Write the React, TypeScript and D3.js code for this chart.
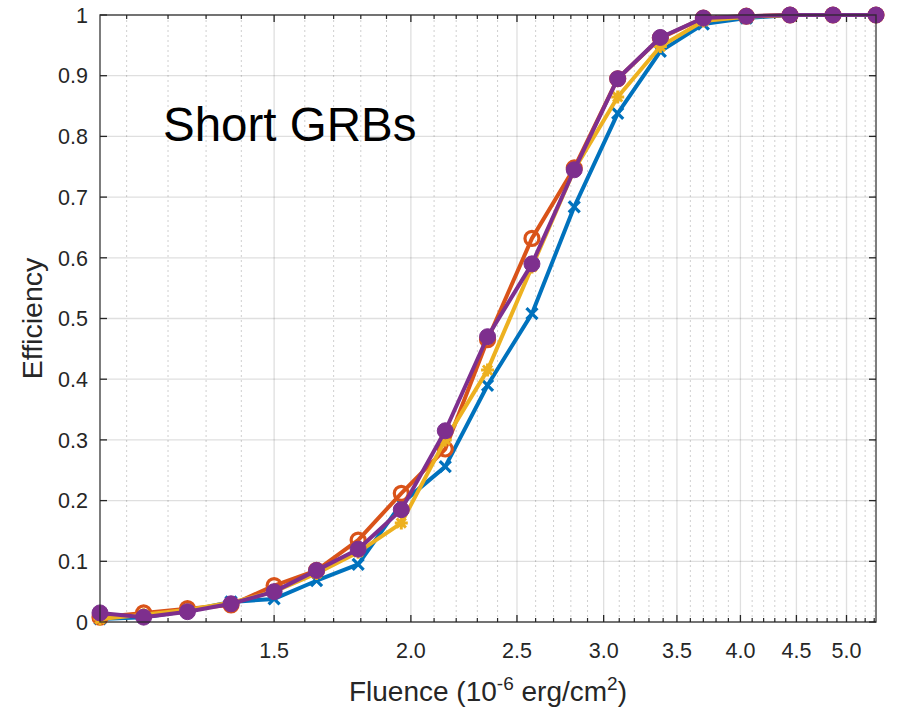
import React from "react";
import * as d3 from "d3";

// fluence (1e-6 erg/cm2)
const fluence = [
  1.04, 1.14, 1.25, 1.37, 1.5, 1.64, 1.79, 1.96, 2.15, 2.35,
  2.58, 2.82, 3.09, 3.38, 3.7, 4.05, 4.44, 4.86, 5.32,
];

const blueEff = [
  0.005, 0.008, 0.018, 0.033, 0.038, 0.068, 0.095, 0.195, 0.256, 0.39,
  0.508, 0.684, 0.838, 0.94, 0.985, 0.995, 1.0, 1.0, 1.0,
];
const orangeEff = [
  0.008, 0.015, 0.022, 0.028, 0.06, 0.085, 0.135, 0.212, 0.285, 0.465,
  0.632, 0.748, 0.895, 0.962, 0.995, 0.998, 1.0, 1.0, 1.0,
];
const yellowEff = [
  0.005, 0.012, 0.02, 0.032, 0.05, 0.08, 0.115, 0.163, 0.3, 0.415,
  0.585, 0.745, 0.865, 0.948, 0.99, 0.997, 1.0, 1.0, 1.0,
];
const purpleEff = [
  0.015, 0.008, 0.017, 0.03, 0.05, 0.085, 0.12, 0.185, 0.315, 0.47,
  0.59, 0.745, 0.895, 0.963, 0.995, 0.998, 1.0, 1.0, 1.0,
];

const xMajor = [1.5, 2.0, 2.5, 3.0, 3.5, 4.0, 4.5, 5.0];
const xMajorLabels = ["1.5", "2.0", "2.5", "3.0", "3.5", "4.0", "4.5", "5.0"];
const yTicks = [0, 0.1, 0.2, 0.3, 0.4, 0.5, 0.6, 0.7, 0.8, 0.9, 1];
const yTickLabels = ["0", "0.1", "0.2", "0.3", "0.4", "0.5", "0.6", "0.7", "0.8", "0.9", "1"];

const W = 899;
const H = 712;
const left = 100, right = 876, top = 15, bottom = 622;
const axisCol = "#262626";
const font = "'Liberation Sans', Arial, sans-serif";

export default function App() {
  const x = d3.scaleLog().domain([fluence[0], fluence[fluence.length - 1]]).range([left, right]);
  const y = d3.scaleLinear().domain([0, 1]).range([bottom, top]);

  // minor grid every 0.1 (skip the majors)
  const xMinor = d3.range(11, 54).map((v) => v / 10).filter((v) => !xMajor.some((m) => Math.abs(m - v) < 1e-6));

  const line = d3.line<number>().x((_, i) => x(fluence[i])).y((d) => y(d));

  const series = [
    { vals: blueEff, color: "#0072BD", marker: "x" },
    { vals: orangeEff, color: "#D95319", marker: "o" },
    { vals: yellowEff, color: "#EDB120", marker: "*" },
    { vals: purpleEff, color: "#7E2F8E", marker: "filled" },
  ];

  const drawMarker = (m: string, cx: number, cy: number, c: string, k: number) => {
    if (m === "x") {
      const s = 5.5;
      return (
        <path key={k} d={`M${cx - s},${cy - s}L${cx + s},${cy + s}M${cx - s},${cy + s}L${cx + s},${cy - s}`}
          stroke={c} strokeWidth={3.2} fill="none" />
      );
    }
    if (m === "o") {
      return <circle key={k} cx={cx} cy={cy} r={7} fill="none" stroke={c} strokeWidth={3.2} />;
    }
    if (m === "*") {
      const s = 6.5, d = 4.6;
      return (
        <path key={k}
          d={`M${cx - s},${cy}L${cx + s},${cy}M${cx},${cy - s}L${cx},${cy + s}M${cx - d},${cy - d}L${cx + d},${cy + d}M${cx - d},${cy + d}L${cx + d},${cy - d}`}
          stroke={c} strokeWidth={3} fill="none" />
      );
    }
    return <circle key={k} cx={cx} cy={cy} r={8} fill={c} stroke={c} strokeWidth={1} />;
  };

  return (
    <svg width={W} height={H} style={{ position: "absolute", left: 0, top: 0, background: "#fff" }}
      fontFamily={font}>
      <rect x={0} y={0} width={W} height={H} fill="#fff" />

      {/* minor grid */}
      {xMinor.map((v) => (
        <line key={"mg" + v} x1={x(v)} x2={x(v)} y1={top} y2={bottom}
          stroke={axisCol} strokeOpacity={0.22} strokeWidth={1} strokeDasharray="2 3" />
      ))}
      {/* major grid */}
      {xMajor.map((v) => (
        <line key={"g" + v} x1={x(v)} x2={x(v)} y1={top} y2={bottom}
          stroke={axisCol} strokeOpacity={0.15} strokeWidth={1.3} />
      ))}
      {yTicks.map((v) => (
        <line key={"gy" + v} x1={left} x2={right} y1={y(v)} y2={y(v)}
          stroke={axisCol} strokeOpacity={0.15} strokeWidth={1.3} />
      ))}

      {/* ticks */}
      {xMinor.map((v) => (
        <g key={"mt" + v} stroke={axisCol} strokeWidth={1.2}>
          <line x1={x(v)} x2={x(v)} y1={bottom} y2={bottom - 4} />
          <line x1={x(v)} x2={x(v)} y1={top} y2={top + 4} />
        </g>
      ))}
      {xMajor.map((v) => (
        <g key={"t" + v} stroke={axisCol} strokeWidth={1.3}>
          <line x1={x(v)} x2={x(v)} y1={bottom} y2={bottom - 7} />
          <line x1={x(v)} x2={x(v)} y1={top} y2={top + 7} />
        </g>
      ))}
      {yTicks.map((v) => (
        <g key={"ty" + v} stroke={axisCol} strokeWidth={1.3}>
          <line x1={left} x2={left + 7} y1={y(v)} y2={y(v)} />
          <line x1={right} x2={right - 7} y1={y(v)} y2={y(v)} />
        </g>
      ))}

      {/* series */}
      {series.map((s, si) => (
        <g key={"s" + si}>
          <path d={line(s.vals) || ""} fill="none" stroke={s.color} strokeWidth={4} strokeLinejoin="round" />
          {s.vals.map((v, i) => drawMarker(s.marker, x(fluence[i]), y(v), s.color, i))}
        </g>
      ))}

      {/* box */}
      <rect x={left} y={top} width={right - left} height={bottom - top} fill="none" stroke={axisCol}
        strokeOpacity={0.85} strokeWidth={1.4} />

      {/* tick labels */}
      {xMajor.map((v, i) => (
        <text key={"xl" + v} x={x(v)} y={658} textAnchor="middle" fontSize={21.5} fill={axisCol}>
          {xMajorLabels[i]}
        </text>
      ))}
      {yTicks.map((v, i) => (
        <text key={"yl" + v} x={88} y={y(v)} dy="0.36em" textAnchor="end" fontSize={21.5} fill={axisCol}>
          {yTickLabels[i]}
        </text>
      ))}

      {/* axis labels */}
      <text x={(left + right) / 2} y={701} textAnchor="middle" fontSize={28} fill={axisCol}>
        Fluence (10
        <tspan dy={-11} fontSize={19}>-6</tspan>
        <tspan dy={11}> erg/cm</tspan>
        <tspan dy={-11} fontSize={19}>2</tspan>
        <tspan dy={11}>)</tspan>
      </text>
      <text transform={`translate(42,${(top + bottom) / 2}) rotate(-90)`} textAnchor="middle" fontSize={28.5}
        fill={axisCol}>
        Efficiency
      </text>

      <text x={163} y={141} fontSize={47.5} fill="#000">Short GRBs</text>
    </svg>
  );
}
